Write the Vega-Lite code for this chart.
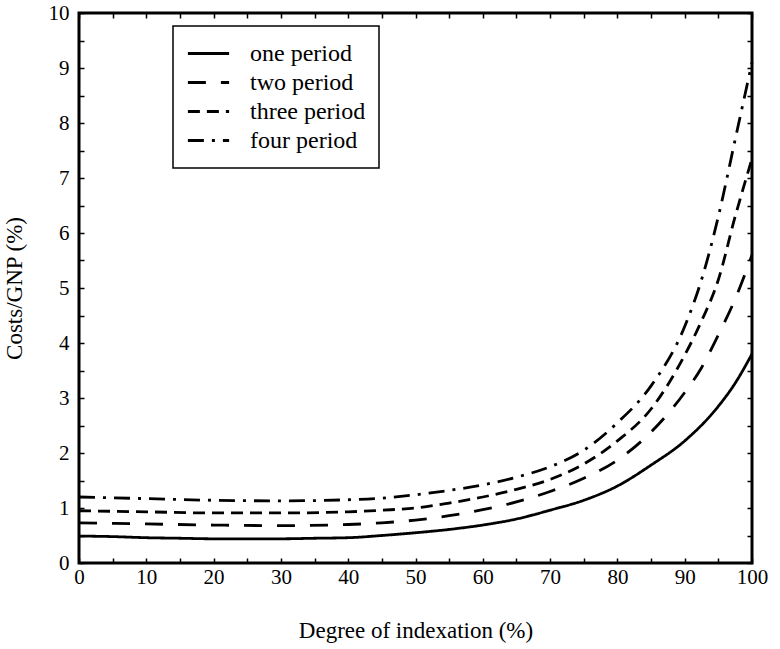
{
  "$schema": "https://vega.github.io/schema/vega-lite/v6.json",
  "autosize": "none",
  "width": 673,
  "height": 550,
  "padding": {"left": 79, "top": 13, "right": 28, "bottom": 86},
  "background": "white",
  "config": {
    "font": "Liberation Serif",
    "view": {"stroke": "black", "strokeWidth": 3},
    "axis": {"grid": false, "domain": false, "tickColor": "black", "tickWidth": 1.5, "tickSize": -5,
             "labelFont": "Liberation Serif", "labelFontSize": 21, "labelColor": "black",
             "titleFont": "Liberation Serif", "titleFontSize": 23, "titleFontWeight": "normal", "titleColor": "black"}
  },
  "data": {"values": [
    {"x": 0, "y": 0.49, "s": "one period"}, {"x": 5, "y": 0.48, "s": "one period"}, {"x": 10, "y": 0.46, "s": "one period"}, {"x": 15, "y": 0.45, "s": "one period"}, {"x": 20, "y": 0.44, "s": "one period"}, {"x": 25, "y": 0.44, "s": "one period"}, {"x": 30, "y": 0.44, "s": "one period"}, {"x": 35, "y": 0.45, "s": "one period"}, {"x": 40, "y": 0.46, "s": "one period"}, {"x": 45, "y": 0.5, "s": "one period"}, {"x": 50, "y": 0.55, "s": "one period"}, {"x": 55, "y": 0.61, "s": "one period"}, {"x": 60, "y": 0.69, "s": "one period"}, {"x": 65, "y": 0.8, "s": "one period"}, {"x": 70, "y": 0.96, "s": "one period"}, {"x": 75, "y": 1.14, "s": "one period"}, {"x": 80, "y": 1.4, "s": "one period"}, {"x": 85, "y": 1.78, "s": "one period"}, {"x": 90, "y": 2.22, "s": "one period"}, {"x": 95, "y": 2.85, "s": "one period"}, {"x": 97.5, "y": 3.27, "s": "one period"}, {"x": 100, "y": 3.8, "s": "one period"},
    {"x": 0, "y": 0.73, "s": "two period"}, {"x": 10, "y": 0.71, "s": "two period"}, {"x": 20, "y": 0.69, "s": "two period"}, {"x": 30, "y": 0.68, "s": "two period"}, {"x": 40, "y": 0.7, "s": "two period"}, {"x": 45, "y": 0.73, "s": "two period"}, {"x": 50, "y": 0.78, "s": "two period"}, {"x": 55, "y": 0.86, "s": "two period"}, {"x": 60, "y": 0.97, "s": "two period"}, {"x": 65, "y": 1.11, "s": "two period"}, {"x": 70, "y": 1.3, "s": "two period"}, {"x": 75, "y": 1.54, "s": "two period"}, {"x": 80, "y": 1.87, "s": "two period"}, {"x": 85, "y": 2.38, "s": "two period"}, {"x": 90, "y": 3.1, "s": "two period"}, {"x": 92.5, "y": 3.55, "s": "two period"}, {"x": 95, "y": 4.15, "s": "two period"}, {"x": 97.5, "y": 4.8, "s": "two period"}, {"x": 100, "y": 5.6, "s": "two period"},
    {"x": 0, "y": 0.95, "s": "three period"}, {"x": 10, "y": 0.93, "s": "three period"}, {"x": 20, "y": 0.91, "s": "three period"}, {"x": 30, "y": 0.91, "s": "three period"}, {"x": 40, "y": 0.93, "s": "three period"}, {"x": 45, "y": 0.96, "s": "three period"}, {"x": 50, "y": 1.0, "s": "three period"}, {"x": 55, "y": 1.09, "s": "three period"}, {"x": 60, "y": 1.2, "s": "three period"}, {"x": 65, "y": 1.34, "s": "three period"}, {"x": 70, "y": 1.52, "s": "three period"}, {"x": 75, "y": 1.8, "s": "three period"}, {"x": 80, "y": 2.22, "s": "three period"}, {"x": 85, "y": 2.8, "s": "three period"}, {"x": 90, "y": 3.78, "s": "three period"}, {"x": 92.5, "y": 4.4, "s": "three period"}, {"x": 95, "y": 5.15, "s": "three period"}, {"x": 97.5, "y": 6.3, "s": "three period"}, {"x": 100, "y": 7.35, "s": "three period"},
    {"x": 0, "y": 1.2, "s": "four period"}, {"x": 10, "y": 1.17, "s": "four period"}, {"x": 20, "y": 1.14, "s": "four period"}, {"x": 30, "y": 1.13, "s": "four period"}, {"x": 40, "y": 1.15, "s": "four period"}, {"x": 45, "y": 1.18, "s": "four period"}, {"x": 50, "y": 1.24, "s": "four period"}, {"x": 55, "y": 1.32, "s": "four period"}, {"x": 60, "y": 1.42, "s": "four period"}, {"x": 65, "y": 1.56, "s": "four period"}, {"x": 70, "y": 1.75, "s": "four period"}, {"x": 75, "y": 2.05, "s": "four period"}, {"x": 80, "y": 2.55, "s": "four period"}, {"x": 85, "y": 3.22, "s": "four period"}, {"x": 90, "y": 4.3, "s": "four period"}, {"x": 92.5, "y": 5.15, "s": "four period"}, {"x": 95, "y": 6.3, "s": "four period"}, {"x": 97.5, "y": 7.7, "s": "four period"}, {"x": 100, "y": 9.1, "s": "four period"}
  ]},
  "resolve": {"axis": {"x": "independent", "y": "independent"}},
  "layer": [
    {
      "mark": {"type": "line", "color": "black", "strokeWidth": 2.8, "interpolate": "monotone"},
      "encoding": {
        "x": {"field": "x", "type": "quantitative", "scale": {"domain": [0, 100], "nice": false, "zero": false},
              "axis": {"orient": "bottom", "title": "Degree of indexation (%)", "values": [0,5,10,15,20,25,30,35,40,45,50,55,60,65,70,75,80,85,90,95,100],
                       "labelExpr": "datum.value % 10 === 0 ? format(datum.value, 'd') : ''", "labelPadding": 8, "titlePadding": 32, "labelFlush": false}},
        "y": {"field": "y", "type": "quantitative", "scale": {"domain": [0, 10], "nice": false, "zero": false},
              "axis": {"orient": "left", "title": "Costs/GNP (%)", "values": [0,0.5,1,1.5,2,2.5,3,3.5,4,4.5,5,5.5,6,6.5,7,7.5,8,8.5,9,9.5,10],
                       "labelExpr": "datum.value % 1 === 0 ? format(datum.value, 'd') : ''", "labelPadding": 15, "titlePadding": 22}},
        "strokeDash": {"field": "s", "type": "nominal",
                       "scale": {"domain": ["one period", "two period", "three period", "four period"],
                                 "range": [[1, 0], [18, 15], [12, 7], [16, 8, 3, 8]]},
                       "legend": {"title": null, "orient": "none", "legendX": 94, "legendY": 13,
                                  "strokeColor": "black", "padding": 13, "fillColor": "white",
                                  "symbolType": "stroke", "symbolSize": 1700, "symbolStrokeWidth": 2.8, "symbolStrokeColor": "black",
                                  "labelFontSize": 24, "labelFont": "Liberation Serif", "labelColor": "black", "labelOffset": 19,
                                  "rowPadding": 0, "clipHeight": 29, "labelLimit": 300,
                                  "encode": {"legend": {"update": {"strokeWidth": {"value": 1.5}}}}}}
      }
    },
    {
      "mark": {"type": "line", "opacity": 0},
      "encoding": {
        "x": {"field": "x", "type": "quantitative",
              "axis": {"orient": "top", "title": null, "labels": false, "values": [0,5,10,15,20,25,30,35,40,45,50,55,60,65,70,75,80,85,90,95,100]}},
        "y": {"field": "y", "type": "quantitative",
              "axis": {"orient": "right", "title": null, "labels": false, "values": [0,0.5,1,1.5,2,2.5,3,3.5,4,4.5,5,5.5,6,6.5,7,7.5,8,8.5,9,9.5,10]}},
        "detail": {"field": "s"}
      }
    }
  ]
}
